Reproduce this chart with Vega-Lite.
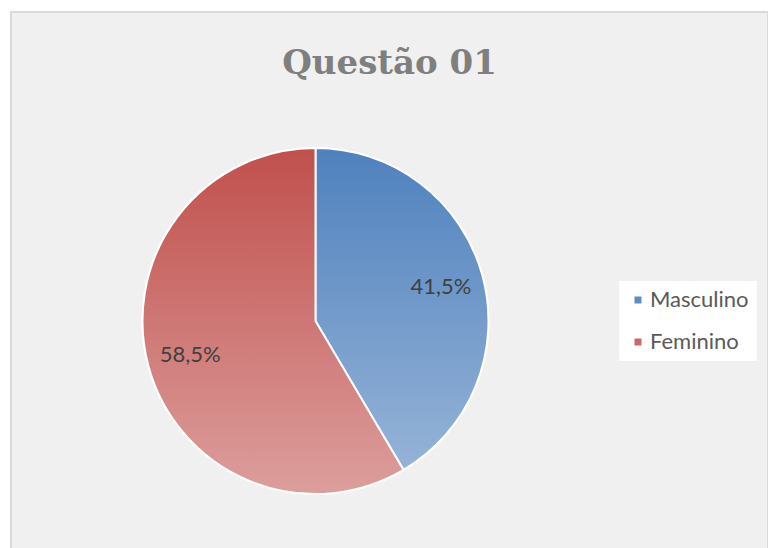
{
  "$schema": "https://vega.github.io/schema/vega-lite/v6.json",
  "autosize": "none",
  "padding": {"left": 11, "top": 12, "right": 0, "bottom": 0},
  "width": 757,
  "height": 618,
  "background": "white",
  "view": {"fill": "#f0f0f0", "stroke": "#d9d9d9", "strokeWidth": 2},
  "title": {
    "text": "Questão 01",
    "font": "DejaVu Serif",
    "fontWeight": "bold",
    "fontSize": 34,
    "color": "#7f7f7f",
    "anchor": "middle",
    "baseline": "alphabetic",
    "offset": -63,
    "dy": 33
  },
  "config": {
    "view": {"fill": "#f0f0f0", "stroke": "#d9d9d9", "strokeWidth": 2},
    "style": {"cell": {"fill": "#f0f0f0", "stroke": "#d9d9d9", "strokeWidth": 2}}
  },
  "data": {
    "values": [
      {"sexo": "Masculino", "pct": 41.5, "label": "41,5%"},
      {"sexo": "Feminino", "pct": 58.5, "label": "58,5%"}
    ]
  },
  "encoding": {
    "theta": {"field": "pct", "type": "quantitative", "stack": true},
    "order": {"field": "pct", "type": "quantitative", "sort": "ascending"}
  },
  "layer": [
    {
      "mark": {"type": "arc", "outerRadius": 173, "xOffset": -74, "stroke": "white", "strokeWidth": 2},
      "encoding": {
        "color": {
          "field": "sexo",
          "type": "nominal",
          "scale": {"domain": ["Masculino", "Feminino"], "range": ["#5f8cc4", "#c86a67"]},
          "legend": {
            "orient": "none",
            "legendX": 608,
            "legendY": 269,
            "title": null,
            "fillColor": "white",
            "padding": 8,
            "symbolType": "square",
            "symbolSize": 49,
            "symbolStrokeWidth": 0,
            "labelFont": "Lato",
            "labelFontSize": 22,
            "labelColor": "#595959",
            "labelOffset": 1,
            "rowPadding": 20
          }
        }
      }
    },
    {
      "mark": {"type": "arc", "outerRadius": 173, "xOffset": -74, "stroke": "white", "strokeWidth": 2},
      "encoding": {
        "fill": {
          "condition": {
            "test": "datum.sexo === 'Masculino'",
            "value": {"gradient": "linear", "x1": 0, "y1": 0, "x2": 0, "y2": 1,
              "stops": [{"offset": 0, "color": "#4f81bd"}, {"offset": 1, "color": "#95b3d7"}]}
          },
          "value": {"gradient": "linear", "x1": 0, "y1": 0, "x2": 0, "y2": 1,
            "stops": [{"offset": 0, "color": "#c0504d"}, {"offset": 1, "color": "#dc9e9c"}]}
        }
      }
    },
    {
      "mark": {"type": "text", "radius": 130, "xOffset": -74, "font": "Lato", "fontSize": 22, "color": "#404040"},
      "encoding": {"text": {"field": "label", "type": "nominal"}}
    }
  ]
}
